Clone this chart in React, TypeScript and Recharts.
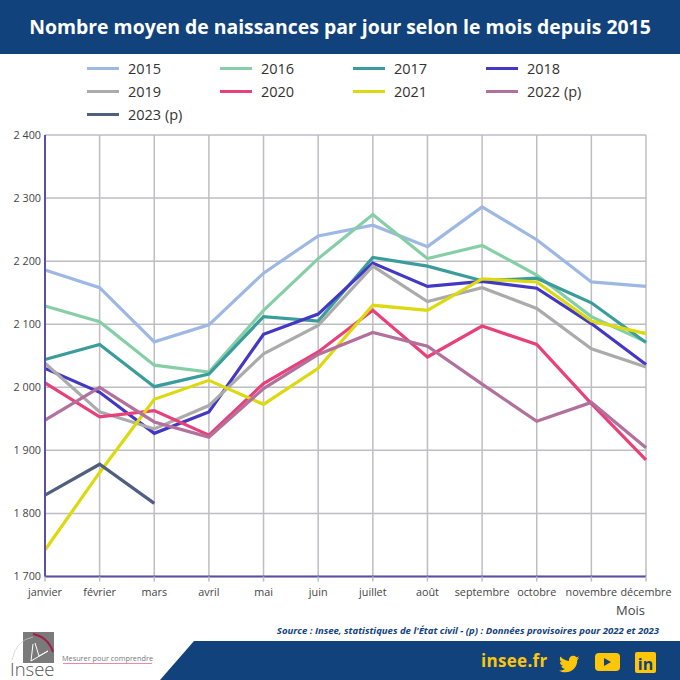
import React from "react";
import { LineChart, Line, XAxis, YAxis, CartesianGrid, Legend } from "recharts";

const months = ["janvier","février","mars","avril","mai","juin","juillet","août","septembre","octobre","novembre","décembre"];
const yTicks = [1700,1800,1900,2000,2100,2200,2300,2400];
const v2015 = [2186,2158,2072,2099,2181,2240,2257,2223,2286,2234,2167,2160];
const v2016 = [2129,2104,2035,2024,2122,2204,2274,2204,2225,2178,2112,2072];
const v2017 = [2044,2068,2001,2021,2112,2105,2206,2192,2169,2173,2134,2071];
const v2018 = [2030,1992,1927,1961,2084,2116,2197,2160,2168,2157,2101,2036];
const v2019 = [2038,1961,1934,1971,2053,2098,2192,2136,2158,2125,2061,2032];
const v2020 = [2007,1953,1963,1924,2006,2056,2122,2048,2097,2068,1974,1885];
const v2021 = [1742,1865,1981,2011,1973,2030,2130,2122,2172,2167,2105,2085];
const v2022 = [1948,2000,1945,1921,1998,2052,2087,2065,2005,1946,1976,1904];
const v2023 = [1829,1878,1816];
const seriesList: [string, number[], string][] = [
  ["2015", v2015, "#9db8e3"],
  ["2016", v2016, "#86cfa6"],
  ["2017", v2017, "#3b9c9c"],
  ["2018", v2018, "#4338c4"],
  ["2019", v2019, "#ababab"],
  ["2020", v2020, "#e8417a"],
  ["2021", v2021, "#dcd90f"],
  ["2022 (p)", v2022, "#b2709c"],
  ["2023 (p)", v2023, "#4f5f80"],
];
const rows = months.map((m, i) => {
  const r: Record<string, string | number | undefined> = { month: m };
  seriesList.forEach(([n, vals]) => { r[n] = vals[i]; });
  return r;
});
const FONT = "'Open Sans', 'Noto Sans', sans-serif";
const NAVY = "#12427c";
const GOLD = "#fdc60b";

const fmt = (v: number) => String(v).replace(/(\d)(\d{3})$/, "$1 $2");

function LegendBox() {
  return (
    <div style={{ position: "absolute", left: 87, top: 57, width: 540, display: "grid", gridTemplateColumns: "repeat(4, 133px)", gridAutoRows: "23px", fontFamily: FONT, fontSize: 14.5, color: "#333" }}>
      {seriesList.map(([n, , c]) => (
        <div key={n} style={{ display: "flex", alignItems: "center", height: 23 }}>
          <span style={{ display: "inline-block", width: 32, height: 3.5, background: c, marginRight: 9 }} />
          <span>{n}</span>
        </div>
      ))}
    </div>
  );
}

export default function App() {
  return (
    <div style={{ position: "absolute", left: 0, top: 0, width: 680, height: 680, background: "#fff", overflow: "hidden", fontFamily: FONT }}>
      <div style={{ position: "absolute", left: 0, top: 0, width: 680, height: 54, background: NAVY, color: "#fff", fontWeight: 700, fontSize: 19.4, lineHeight: "54px", textAlign: "center" }}>
        Nombre moyen de naissances par jour selon le mois depuis 2015
      </div>
      <LineChart width={680} height={640} data={rows} margin={{ top: 135, right: 34, bottom: 33.5, left: 0 }} style={{ position: "absolute", left: 0, top: 0 }}>
        <CartesianGrid stroke="#bdbdc4" strokeWidth={1.5} />
        <XAxis dataKey="month" interval={0} axisLine={{ stroke: "#5b4ea3", strokeWidth: 2 }} tickLine={{ stroke: "#bdbdc4", strokeWidth: 1.5 }} tickSize={5} tick={{ fontSize: 10.8, fill: "#444", fontFamily: FONT }} tickMargin={7} />
        <YAxis width={45} domain={[1700, 2400]} ticks={yTicks} tickFormatter={fmt} axisLine={{ stroke: "#5b4ea3", strokeWidth: 2 }} tickLine={false} tickSize={1} tickMargin={3} tick={{ fontSize: 10.8, fill: "#444", fontFamily: FONT }} />
        <Legend content={() => <LegendBox />} wrapperStyle={{ position: "absolute", left: 0, top: 0, width: 0, height: 0 }} />
        {seriesList.map(([n, , c]) => (
          <Line key={n} dataKey={n} stroke={c} strokeWidth={3.2} dot={false} isAnimationActive={false} connectNulls={false} />
        ))}
      </LineChart>
      <div style={{ position: "absolute", left: 616, top: 601, fontSize: 13, color: "#444" }}>Mois</div>
      <div style={{ position: "absolute", right: 21, top: 624, fontSize: 9.55, fontWeight: 700, fontStyle: "italic", color: NAVY, whiteSpace: "nowrap" }}>
        Source : Insee, statistiques de l'État civil - (p) : Données provisoires pour 2022 et 2023
      </div>
      <svg width={680} height={680} style={{ position: "absolute", left: 0, top: 0, pointerEvents: "none" }}>
        <polygon points="194,641 680,641 680,680 160,680" fill={NAVY} />
        <rect x={23} y={632} width={31} height={31} fill="#7a7a7a" />
        <path d="M33,644 L31,661 L48,651 L39,656 L35,643" fill="none" stroke="#fff" strokeWidth={1} />
        <path d="M33,634 Q48,637 53,652" fill="none" stroke="#a31d4d" strokeWidth={2} />
        <path d="M12,660 Q16,640 33,637" fill="none" stroke="#ccc" strokeWidth={0.7} />
        <text x={10} y={676} fontSize={18.5} fill="#555" fontFamily={FONT} fontWeight={300}>Insee</text>
        <text x={62} y={661} fontSize={7.3} fill="#777" fontFamily={FONT}>Mesurer pour comprendre</text>
        <line x1={63} x2={152} y1={663.5} y2={663.5} stroke="#e88bab" strokeWidth={1} />
        <text x={481} y={667} fontSize={17} fontWeight={700} fill={GOLD} fontFamily={FONT} letterSpacing={0.3}>insee.fr</text>
        <path transform="translate(559,654) scale(0.85)" d="M24 4.6c-.9.4-1.8.7-2.8.8 1-.6 1.8-1.6 2.2-2.7-1 .6-2 1-3.1 1.2C19.3 2.8 18 2.2 16.6 2.2c-2.7 0-4.9 2.2-4.9 4.9 0 .4 0 .8.1 1.1C7.7 8 4.1 6 1.7 3c-.4.7-.7 1.6-.7 2.5 0 1.7.9 3.2 2.2 4.1-.8 0-1.6-.2-2.2-.6v.1c0 2.4 1.7 4.4 3.9 4.8-.4.1-.8.2-1.3.2-.3 0-.6 0-.9-.1.6 2 2.4 3.4 4.6 3.4-1.7 1.3-3.8 2.1-6.1 2.1-.4 0-.8 0-1.2-.1 2.2 1.4 4.8 2.2 7.5 2.2 9.1 0 14-7.5 14-14v-.6c1-.7 1.8-1.6 2.5-2.6z" fill={GOLD} />
        <rect x={595} y={653} width={25} height={18} rx={4} fill={GOLD} />
        <polygon points="604,658 604,666 611,662" fill={NAVY} />
        <rect x={635} y={652} width={21} height={21} rx={2} fill={GOLD} />
        <text x={645.5} y={670} fontSize={16} fontWeight={700} textAnchor="middle" fill={NAVY} fontFamily={FONT}>in</text>
      </svg>
    </div>
  );
}
